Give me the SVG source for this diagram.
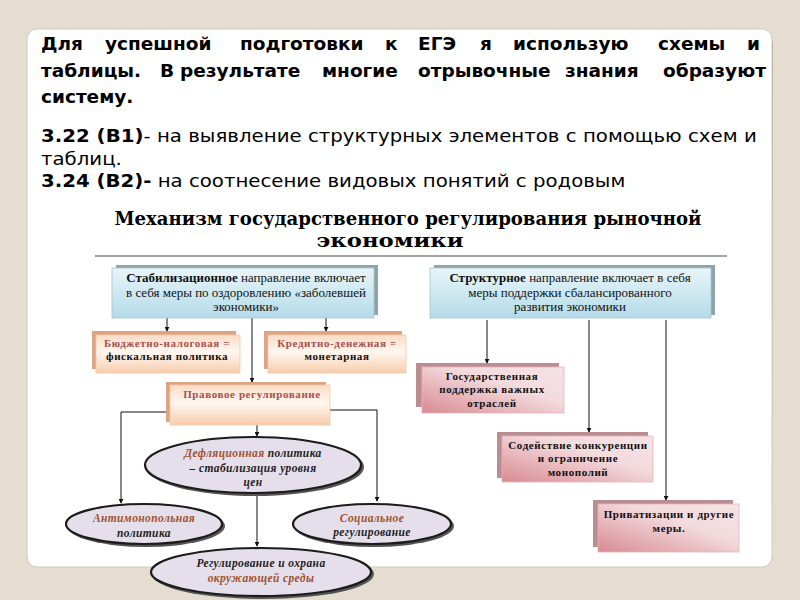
<svg xmlns="http://www.w3.org/2000/svg" width="800" height="600" viewBox="0 0 800 600">
<defs>
<style>
.hd{font-family:"DejaVu Sans","Verdana",sans-serif;font-size:18.5px;font-weight:bold;fill:#000}
.bd{font-family:"DejaVu Sans","Verdana",sans-serif;font-size:17px;fill:#000}
.b{font-weight:bold}
.ttl{font-family:"DejaVu Serif","Liberation Serif",serif;font-size:18px;font-weight:bold;fill:#000;text-anchor:middle}
.bx{font-family:"Liberation Serif","Times New Roman",serif;font-size:13px;fill:#111;text-anchor:middle}
.bxb{font-family:"Liberation Serif","Times New Roman",serif;font-size:11px;font-weight:bold;fill:#111;text-anchor:middle;letter-spacing:0.6px}
.el{font-family:"Liberation Serif","Times New Roman",serif;font-size:11.5px;font-weight:bold;font-style:italic;fill:#222;text-anchor:middle;letter-spacing:0.4px}
.red{fill:#a8504c}
.brn{fill:#a0522d}
.con line,.con path{stroke:#111;stroke-width:1;fill:none}
.blueback{fill:#8ea3aa}
.blue{fill:url(#gBlue);stroke:#a9c3cc;stroke-width:0.8}
.peachback{fill:#dca482}
.peach{fill:url(#gPeach);stroke:#f0c8ac;stroke-width:0.8}
.pinkback{fill:#b98d91}
.pink{fill:url(#gPink);stroke:#e6b3b7;stroke-width:0.8}
.eshadow{fill:#555}
.ell{fill:#e5dfec;stroke:#1c1c1c;stroke-width:2.2}
</style>
<linearGradient id="gBlue" x1="0" y1="0" x2="0" y2="1">
<stop offset="0" stop-color="#e9f5f9"/>
<stop offset="1" stop-color="#b3dbe9"/>
</linearGradient>
<linearGradient id="gPeach" x1="0" y1="0" x2="0" y2="1">
<stop offset="0" stop-color="#fbdcc5"/>
<stop offset="0.45" stop-color="#fff7f1"/>
<stop offset="1" stop-color="#f7ccab"/>
</linearGradient>
<linearGradient id="gPink" x1="0" y1="1" x2="1" y2="0">
<stop offset="0" stop-color="#d88a92"/>
<stop offset="0.6" stop-color="#f3dadd"/>
<stop offset="1" stop-color="#f5e3e5"/>
</linearGradient>
<linearGradient id="gShadow" x1="0" y1="0" x2="0" y2="1">
<stop offset="0" stop-color="#9a958c"/>
<stop offset="1" stop-color="#e5ddd0"/>
</linearGradient>
<marker id="arr" viewBox="0 0 6 6" refX="5" refY="3" markerWidth="5" markerHeight="5" orient="auto">
<path d="M0,0 L6,3 L0,6 z" fill="#111"/>
</marker>
</defs>

<rect x="0" y="0" width="800" height="600" fill="#e5ddd0"/>
<rect x="28" y="33" width="745" height="540" rx="11" fill="url(#gShadow)" opacity="0.9"/>
<rect x="27" y="29" width="745" height="538" rx="10" fill="#ffffff" stroke="#d2cbbf" stroke-width="1"/>

<g id="intro">
<text class="hd" y="50"><tspan x="41">Для</tspan><tspan x="105">успешной</tspan><tspan x="240">подготовки</tspan><tspan x="385">к</tspan><tspan x="418">ЕГЭ</tspan><tspan x="480">я</tspan><tspan x="513">использую</tspan><tspan x="658">схемы</tspan><tspan x="747">и</tspan></text>
<text class="hd" y="77"><tspan x="41">таблицы.</tspan><tspan x="160">В</tspan><tspan x="180">результате</tspan><tspan x="322">многие</tspan><tspan x="418">отрывочные</tspan><tspan x="565">знания</tspan><tspan x="663">образуют</tspan></text>
<text class="hd" x="41" y="103">систему.</text>
<g transform="translate(41,0) scale(1.16,1) translate(-41,0)">
<text class="bd" x="41" y="142" textLength="617" lengthAdjust="spacing"><tspan class="b">3.22 (В1)</tspan>- на выявление структурных элементов с помощью схем и</text>
<text class="bd" x="41" y="165">таблиц.</text>
<text class="bd" x="41" y="187"><tspan class="b">3.24 (В2)-</tspan> на соотнесение видовых понятий с родовым</text>
</g>
</g>

<g id="title">
<text class="ttl" x="408" y="225" textLength="587" lengthAdjust="spacingAndGlyphs">Механизм государственного регулирования рыночной</text>
<text class="ttl" x="390" y="247" textLength="147" lengthAdjust="spacingAndGlyphs">экономики</text>
<line x1="95" y1="256" x2="727" y2="256" stroke="#a3a3a3" stroke-width="2"/>
</g>

<g class="con" id="connectors">
<line x1="167" y1="318" x2="167" y2="331" marker-end="url(#arr)"/>
<line x1="326" y1="318" x2="326" y2="331" marker-end="url(#arr)"/>
<line x1="252" y1="318" x2="252" y2="382" marker-end="url(#arr)"/>
<path d="M170,412 H121 V503" marker-end="url(#arr)"/>
<path d="M330,410 H377 V501" marker-end="url(#arr)"/>
<line x1="257" y1="425" x2="257" y2="436" marker-end="url(#arr)"/>
<line x1="257" y1="494" x2="257" y2="546" marker-end="url(#arr)"/>
<line x1="487" y1="320" x2="487" y2="363" marker-end="url(#arr)"/>
<line x1="589" y1="320" x2="589" y2="432" marker-end="url(#arr)"/>
<line x1="666" y1="320" x2="666" y2="500" marker-end="url(#arr)"/>
</g>

<g id="stab">
<rect class="blueback" x="116" y="265" width="262" height="50"/>
<rect class="blue" x="112" y="268" width="262" height="50"/>
<text class="bx" x="246" y="282"><tspan font-weight="bold">Стабилизационное</tspan> направление включает</text>
<text class="bx" x="246" y="297">в себя меры по оздоровлению «заболевшей</text>
<text class="bx" x="246" y="311">экономики»</text>
</g>

<g id="struct">
<rect class="blueback" x="434" y="265" width="281" height="50"/>
<rect class="blue" x="430" y="268" width="281" height="50"/>
<text class="bx" x="570" y="282"><tspan font-weight="bold">Структурное</tspan> направление включает в себя</text>
<text class="bx" x="570" y="297">меры поддержки сбалансированного</text>
<text class="bx" x="570" y="311">развития экономики</text>
</g>

<g id="fiscal">
<rect class="peachback" x="92" y="331" width="144" height="38"/>
<rect class="peach" x="96" y="335" width="144" height="38"/>
<text class="bxb red" x="167" y="347">Бюджетно-налоговая =</text>
<text class="bxb" x="167" y="360">фискальная политика</text>
</g>

<g id="monetary">
<rect class="peachback" x="264" y="331" width="138" height="38"/>
<rect class="peach" x="268" y="335" width="138" height="38"/>
<text class="bxb red" x="337" y="347">Кредитно-денежная =</text>
<text class="bxb" x="337" y="360">монетарная</text>
</g>

<g id="legal">
<rect class="peachback" x="166" y="382" width="160" height="40"/>
<rect class="peach" x="170" y="385" width="160" height="40"/>
<text class="bxb red" x="252" y="398">Правовое регулирование</text>
</g>

<g id="deflation">
<ellipse class="eshadow" cx="255" cy="467" rx="109" ry="29"/>
<ellipse class="ell" cx="253" cy="465" rx="108" ry="28"/>
<text class="el" x="253" y="457"><tspan class="brn">Дефляционная</tspan> политика</text>
<text class="el" x="253" y="472">– стабилизация уровня</text>
<text class="el" x="253" y="486">цен</text>
</g>

<g id="antimonopoly">
<ellipse class="eshadow" cx="146" cy="526" rx="79" ry="21"/>
<ellipse class="ell" cx="144" cy="524" rx="78" ry="20"/>
<text class="el brn" x="144" y="522">Антимонопольная</text>
<text class="el" x="144" y="537">политика</text>
</g>

<g id="social">
<ellipse class="eshadow" cx="374" cy="526" rx="80" ry="21"/>
<ellipse class="ell" cx="372" cy="524" rx="79" ry="20"/>
<text class="el brn" x="372" y="522">Социальное</text>
<text class="el" x="372" y="536">регулирование</text>
</g>

<g id="environment">
<ellipse class="eshadow" cx="263" cy="574" rx="111" ry="25"/>
<ellipse class="ell" cx="261" cy="572" rx="110" ry="24"/>
<text class="el" x="261" y="567">Регулирование и охрана</text>
<text class="el brn" x="261" y="582">окружающей среды</text>
</g>

<g id="support">
<rect class="pinkback" x="416" y="363" width="143" height="44"/>
<rect class="pink" x="422" y="367" width="142" height="46"/>
<text class="bxb" x="492" y="380">Государственная</text>
<text class="bxb" x="492" y="393">поддержка важных</text>
<text class="bxb" x="492" y="407">отраслей</text>
</g>

<g id="competition">
<rect class="pinkback" x="497" y="432" width="151" height="46"/>
<rect class="pink" x="502" y="436" width="151" height="46"/>
<text class="bxb" x="578" y="449">Содействие конкуренции</text>
<text class="bxb" x="578" y="462">и ограничение</text>
<text class="bxb" x="578" y="476">монополий</text>
</g>

<g id="privatization">
<rect class="pinkback" x="593" y="500" width="140" height="47"/>
<rect class="pink" x="598" y="504" width="141" height="48"/>
<text class="bxb" x="669" y="518">Приватизации и другие</text>
<text class="bxb" x="669" y="532">меры.</text>
</g>
</svg>
